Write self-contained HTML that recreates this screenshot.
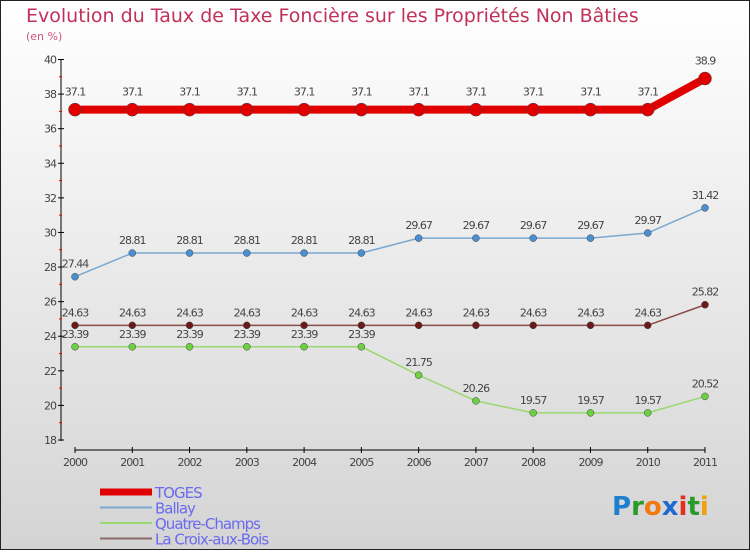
<!DOCTYPE html>
<html><head><meta charset="utf-8"><style>
body{margin:0}
#c{width:750px;height:550px;position:relative;font-family:"DejaVu Sans","Liberation Sans",sans-serif}
</style></head><body>
<div id="c">
<svg id="s" width="750" height="550" xmlns="http://www.w3.org/2000/svg">
<defs><linearGradient id="bg" x1="0" y1="0" x2="0" y2="1"><stop offset="0" stop-color="#ffffff"/><stop offset="1" stop-color="#d4d4d4"/></linearGradient></defs>
<rect x="0.5" y="0.5" width="749" height="549" fill="url(#bg)" stroke="#222"/>
<text x="26" y="22" font-size="19" fill="#c0305a">Evolution du Taux de Taxe Foncière sur les Propriétés Non Bâties</text>
<text x="26" y="40" font-size="11" fill="#d05080">(en %)</text>
<g id="axes"></g><g id="series"></g><g id="legend"></g>
<text x="612" y="515" font-size="26" font-weight="bold"><tspan fill="#1e7fd0">P</tspan><tspan fill="#2a9a2a">r</tspan><tspan fill="#f07a10">o</tspan><tspan fill="#1e6ad0">x</tspan><tspan fill="#e03020">i</tspan><tspan fill="#2a9a2a">t</tspan><tspan fill="#f0a010">i</tspan></text>
</svg></div>
<script>
const years=["2000","2001","2002","2003","2004","2005","2006","2007","2008","2009","2010","2011"];
const toges=[37.1,37.1,37.1,37.1,37.1,37.1,37.1,37.1,37.1,37.1,37.1,38.9];
const ballay=[27.44,28.81,28.81,28.81,28.81,28.81,29.67,29.67,29.67,29.67,29.97,31.42];
const quatre=[23.39,23.39,23.39,23.39,23.39,23.39,21.75,20.26,19.57,19.57,19.57,20.52];
const croix=[24.63,24.63,24.63,24.63,24.63,24.63,24.63,24.63,24.63,24.63,24.63,25.82];
const yTicks=[18,20,22,24,26,28,30,32,34,36,38,40];
const NS="http://www.w3.org/2000/svg";
const x=i=>75+i*(630/11);
const y=v=>440-(v-18)*(380.5/22);
function mk(tag,attrs,parent,text){const e=document.createElementNS(NS,tag);for(const k in attrs)e.setAttribute(k,attrs[k]);if(text!==undefined)e.textContent=text;parent.appendChild(e);return e;}
const ax=document.getElementById('axes');
let a=mk('line',{x1:61,y1:y(40),x2:61,y2:441,stroke:'#000'},ax);


yTicks.forEach(t=>{
 mk('line',{x1:58,x2:64,y1:y(t),y2:y(t),stroke:'#000'},ax);
 if(t<40) mk('line',{x1:59,x2:62,y1:y(t+1),y2:y(t+1),stroke:'#e00'},ax);
 const l=mk('text',{x:56,y:y(t)+4,'font-size':11,fill:'#444','text-anchor':'end','letter-spacing':'-1'},ax,String(t));
 
 
});
a=mk('line',{x1:75,x2:705,y1:450,y2:450,stroke:'#000'},ax);


years.forEach((yr,i)=>{
 mk('line',{x1:x(i),x2:x(i),y1:447,y2:453,stroke:'#000'},ax);
 const l=mk('text',{x:x(i),y:466,'font-size':11,fill:'#444','text-anchor':'middle','letter-spacing':'-1'},ax,yr);
 
 
});
const sg=document.getElementById('series');
function series(vals,name,col,dot,lw,r){
 const g=mk('g',{},sg);
 
 
 const p=mk('polyline',{points:vals.map((v,i)=>x(i)+','+y(v)).join(' '),fill:'none',stroke:col,'stroke-width':lw,'stroke-linejoin':'round'},g);
 
 
 vals.forEach((v,i)=>{
  const c=mk('circle',{cx:x(i),cy:y(v),r:r,fill:dot,stroke:'#444','stroke-width':0.5},g);
  
  
  const t=mk('text',{x:x(i),y:y(v)-9-(r>5?5:0),'font-size':11,fill:'#444','text-anchor':'middle','letter-spacing':'-1'},g,String(v));
  
  
 });
}
series(croix,'la-croix-aux-bois','#8b4a4a','#6a1a1a',1.5,3.5);
series(quatre,'quatre-champs','#9ad870','#6cd040',1.5,3.5);
series(ballay,'ballay','#7aa8d0','#4a90d0',1.5,3.5);
series(toges,'toges','#e00000','#e00000',8,6.5);
const lg=document.getElementById('legend');
[["TOGES","#e00000",7],["Ballay","#7aa8d0",2],["Quatre-Champs","#9ad870",2],["La Croix-aux-Bois","#8b6a6a",2]].forEach((d,i)=>{
 const yy=492+i*15.5;
 const g=mk('g',{},lg);
 
 
 mk('line',{x1:100,x2:152,y1:yy,y2:yy,stroke:d[1],'stroke-width':d[2]},g);
 mk('text',{x:155,y:yy+6,'font-size':15,fill:'#6a6af0','letter-spacing':'-1'},g,d[0]);
});
</script>
</body></html>
